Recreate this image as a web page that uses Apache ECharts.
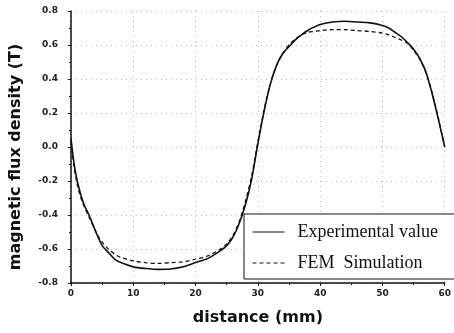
<!DOCTYPE html>
<html>
<head>
<meta charset="utf-8">
<script src="https://cdn.jsdelivr.net/npm/echarts@6/dist/echarts.min.js"></script>
<style>
  html, body { margin: 0; padding: 0; background: #fff; }
  #main { width: 454px; height: 333px; }
</style>
</head>
<body>
<div id="main"></div>
<script>
// distance (mm) sample points, shared by both curves
const distance = [0, 0.5, 1, 1.5, 2, 3, 4, 5, 6, 7, 8, 10, 12, 14, 16, 18, 20, 22, 24, 25, 26, 27, 28, 29,
  30, 31, 32, 33, 34, 35, 36, 37, 38, 39, 40, 42, 44, 46, 48, 50, 51, 52, 53, 54, 55, 56, 57, 58, 59, 60];

const experimental = [0.05, -0.1, -0.2, -0.27, -0.33, -0.41, -0.5, -0.58, -0.62, -0.66, -0.68, -0.705, -0.715,
  -0.72, -0.718, -0.705, -0.68, -0.655, -0.61, -0.58, -0.53, -0.45, -0.34, -0.19,
  0.02, 0.21, 0.37, 0.48, 0.55, 0.59, 0.63, 0.66, 0.685, 0.705, 0.72, 0.735, 0.74, 0.735, 0.73, 0.715,
  0.7, 0.675, 0.65, 0.615, 0.575, 0.52, 0.44, 0.31, 0.16, 0.0];

const femSimulation = [0.03, -0.12, -0.22, -0.29, -0.34, -0.42, -0.5, -0.56, -0.6, -0.63, -0.65, -0.67, -0.68,
  -0.685, -0.68, -0.675, -0.66, -0.64, -0.6, -0.57, -0.52, -0.44, -0.32, -0.17,
  0.03, 0.22, 0.37, 0.48, 0.55, 0.6, 0.635, 0.66, 0.675, 0.68, 0.685, 0.69, 0.69, 0.685, 0.68, 0.67,
  0.66, 0.645, 0.63, 0.61, 0.57, 0.515, 0.435, 0.315, 0.165, 0.0];

const seriesNames = ['Experimental value', 'FEM  Simulation'];

const pairs = (ys) => distance.map((d, i) => [d, ys[i]]);

const chart = echarts.init(document.getElementById('main'));

const tickFont = { color: '#222', fontSize: 9, fontWeight: 'bold', fontFamily: 'DejaVu Sans' };
const gridLine = { show: true, lineStyle: { color: '#bbb', type: [1, 4], width: 1 } };
const titleFont = { fontFamily: 'DejaVu Sans', fontWeight: 'bold', fontSize: 16, color: '#111' };

chart.setOption({
  backgroundColor: '#fff',
  animation: false,
  grid: { left: 67, right: 6, top: 11, bottom: 50 },
  legend: {
    orient: 'vertical',
    left: 244,
    top: 214,
    padding: [9, 60, 7, 8],
    itemGap: 13,
    itemWidth: 32,
    itemHeight: 8,
    borderColor: '#111',
    borderWidth: 1,
    backgroundColor: '#fff',
    itemStyle: { opacity: 0 },
    lineStyle: { width: 1 },
    textStyle: { fontFamily: 'Liberation Serif', fontSize: 18, color: '#111', padding: [0, 0, 0, 8] },
    data: seriesNames
  },
  xAxis: {
    type: 'value',
    min: 0,
    max: 60,
    interval: 10,
    name: 'distance (mm)',
    nameLocation: 'middle',
    nameGap: 27,
    nameTextStyle: titleFont,
    axisLine: { onZero: false, lineStyle: { color: '#111', width: 1.5 } },
    axisTick: { length: 3, lineStyle: { color: '#111' } },
    minorTick: { show: true, splitNumber: 2, length: 2, lineStyle: { color: '#111' } },
    axisLabel: Object.assign({ margin: 6 }, tickFont),
    splitLine: gridLine
  },
  yAxis: {
    type: 'value',
    min: -0.8,
    max: 0.8,
    interval: 0.2,
    name: 'magnetic flux density (T)',
    nameLocation: 'middle',
    nameGap: 47,
    nameTextStyle: Object.assign({ padding: [0, 20, 0, 0] }, titleFont),
    axisLine: { show: true, onZero: false, lineStyle: { color: '#111', width: 1.5 } },
    axisTick: { show: true, length: 3, lineStyle: { color: '#111' } },
    minorTick: { show: true, splitNumber: 2, length: 2, lineStyle: { color: '#111' } },
    axisLabel: Object.assign({ margin: 13, formatter: (v) => v.toFixed(1) }, tickFont),
    splitLine: gridLine
  },
  series: [
    {
      name: seriesNames[0],
      type: 'line',
      data: pairs(experimental),
      smooth: 0.3,
      symbol: 'none',
      lineStyle: { color: '#111', width: 1.6 },
      itemStyle: { color: '#111' }
    },
    {
      name: seriesNames[1],
      type: 'line',
      data: pairs(femSimulation),
      smooth: 0.3,
      symbol: 'none',
      lineStyle: { color: '#111', width: 1.3, type: [4, 3] },
      itemStyle: { color: '#111' }
    }
  ]
});
</script>
</body>
</html>
